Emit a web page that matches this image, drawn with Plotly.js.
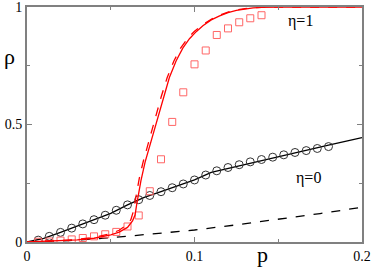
<!DOCTYPE html>
<html>
<head>
<meta charset="utf-8">
<script src="https://cdn.plot.ly/plotly-3.0.1.min.js"></script>
<style>html,body{margin:0;padding:0;background:#fff;}#chart{width:374px;height:269px;}</style>
</head>
<body>
<div id="chart"></div>
<script>
// eta = 0 : simulation (circles), theory (solid), other approx (dashed)
var circleP = [0.0067,0.0133,0.02,0.0267,0.0333,0.04,0.0467,0.0533,0.06,0.0667,0.0733,0.08,0.0867,0.0933,0.1,0.1067,0.1133,0.12,0.1267,0.1333,0.14,0.1467,0.1533,0.16,0.1667,0.1733,0.18];
var circleRho = [0.008,0.024,0.041,0.059,0.077,0.095,0.114,0.135,0.158,0.18,0.198,0.214,0.231,0.247,0.264,0.285,0.303,0.317,0.329,0.341,0.351,0.361,0.371,0.381,0.389,0.398,0.406];
var blackSolidP = [0,0.01,0.02,0.03,0.04,0.05,0.06,0.07,0.08,0.09,0.1,0.11,0.12,0.13,0.14,0.15,0.16,0.17,0.18,0.19,0.2];
var blackSolidRho = [0,0.015,0.041,0.068,0.095,0.122,0.158,0.19,0.214,0.24,0.264,0.296,0.313,0.33,0.347,0.363,0.38,0.396,0.412,0.428,0.444];
var blackDashP = [0,0.025,0.05,0.075,0.1,0.125,0.15,0.175,0.2];
var blackDashRho = [0,0.006,0.018,0.034,0.051,0.073,0.096,0.121,0.148];
// eta = 1 : simulation (squares), theory (solid), other approx (dashed)
var squareP = [0.0067,0.0133,0.02,0.0267,0.0333,0.04,0.0467,0.0533,0.06,0.0667,0.0733,0.08,0.0867,0.0933,0.1,0.1067,0.1133,0.12,0.1267,0.1333,0.14];
var squareRho = [0.001,0.002,0.006,0.011,0.017,0.024,0.033,0.043,0.066,0.113,0.216,0.352,0.511,0.637,0.756,0.815,0.881,0.909,0.935,0.952,0.965];
var redSolidP = [0,0.01,0.02,0.03,0.04,0.05,0.055,0.06,0.063,0.0645,0.0655,0.0665,0.068,0.0705,0.0735,0.0755,0.0785,0.0815,0.085,0.089,0.093,0.097,0.101,0.105,0.11,0.115,0.12,0.125,0.13,0.135,0.14,0.15,0.2];
var redSolidRho = [0,0.002,0.005,0.009,0.016,0.03,0.042,0.062,0.09,0.115,0.16,0.207,0.26,0.34,0.415,0.46,0.54,0.62,0.70,0.77,0.825,0.865,0.895,0.92,0.945,0.962,0.976,0.986,0.992,0.996,0.998,1.0,1.0];
var redDashP = [0,0.01,0.02,0.03,0.04,0.05,0.055,0.06,0.062,0.0635,0.0645,0.0655,0.067,0.0693,0.0722,0.0742,0.0772,0.0802,0.0837,0.0877,0.0917,0.0957,0.1,0.105,0.11,0.115,0.12,0.125,0.13,0.135,0.14,0.15,0.2];
var redDashRho = [0,0.002,0.006,0.011,0.019,0.036,0.05,0.075,0.095,0.13,0.17,0.215,0.27,0.34,0.415,0.46,0.54,0.62,0.70,0.77,0.825,0.865,0.897,0.925,0.948,0.965,0.978,0.988,0.993,0.997,0.999,1.0,1.0];

var serif = 'Liberation Serif';

var traces = [
  {x: blackDashP, y: blackDashRho, mode:'lines', line:{color:'#000', width:1.3, dash:'dash'}, hoverinfo:'skip'},
  {x: blackSolidP, y: blackSolidRho, mode:'lines', line:{color:'#000', width:1.3}, hoverinfo:'skip'},
  {x: circleP, y: circleRho, mode:'markers', marker:{symbol:'circle-open', size:8, color:'#333', line:{width:1, color:'#333'}}, hoverinfo:'skip'},
  {x: squareP, y: squareRho, mode:'markers', marker:{symbol:'square-open', size:7, color:'#f66', line:{width:1, color:'#f66'}}, hoverinfo:'skip'},
  {x: redDashP, y: redDashRho, mode:'lines', line:{color:'#ff0000', width:1.3, dash:'dash'}, hoverinfo:'skip'},
  {x: redSolidP, y: redSolidRho, mode:'lines', line:{color:'#ff0000', width:1.3}, hoverinfo:'skip'}
];

var axisCommon = {
  showline:true, linecolor:'#808080', linewidth:2, mirror:'ticks',
  ticks:'inside', ticklen:5, tickwidth:1, tickcolor:'#808080',
  showgrid:false, zeroline:false, tick0:0, ticklabeloverflow:'allow',
  tickfont:{family:serif, size:14, color:'#000'}
};

var layout = {
  width:374, height:269,
  margin:{l:27, r:12, t:7, b:27},
  paper_bgcolor:'#fff', plot_bgcolor:'#fff',
  showlegend:false,
  font:{family:serif},
  xaxis: Object.assign({}, axisCommon, {range:[0,0.2], dtick:0.1,
    minor:{dtick:0.05, tick0:0, ticks:'inside', ticklen:3, tickcolor:'#808080'}}),
  yaxis: Object.assign({}, axisCommon, {range:[0,1], dtick:0.5,
    minor:{dtick:0.25, tick0:0, ticks:'inside', ticklen:3, tickcolor:'#808080'}}),
  annotations:[
    {text:'ρ', xref:'paper', yref:'paper', x:-0.0537, y:0.79, xanchor:'center', yanchor:'middle', showarrow:false, font:{family:serif, size:22, color:'#000'}},
    {text:'p', xref:'paper', yref:'paper', x:0.7015, y:-0.055, xanchor:'center', yanchor:'middle', showarrow:false, font:{family:serif, size:22, color:'#000'}},
    {text:'η=1', xref:'x', yref:'y', x:0.163, y:0.942, xanchor:'center', yanchor:'middle', showarrow:false, font:{family:serif, size:16, color:'#000'}},
    {text:'η=0', xref:'x', yref:'y', x:0.1678, y:0.272, xanchor:'center', yanchor:'middle', showarrow:false, font:{family:serif, size:16, color:'#000'}}
  ]
};

Plotly.newPlot('chart', traces, layout, {staticPlot:true, displayModeBar:false});
</script>
</body>
</html>
